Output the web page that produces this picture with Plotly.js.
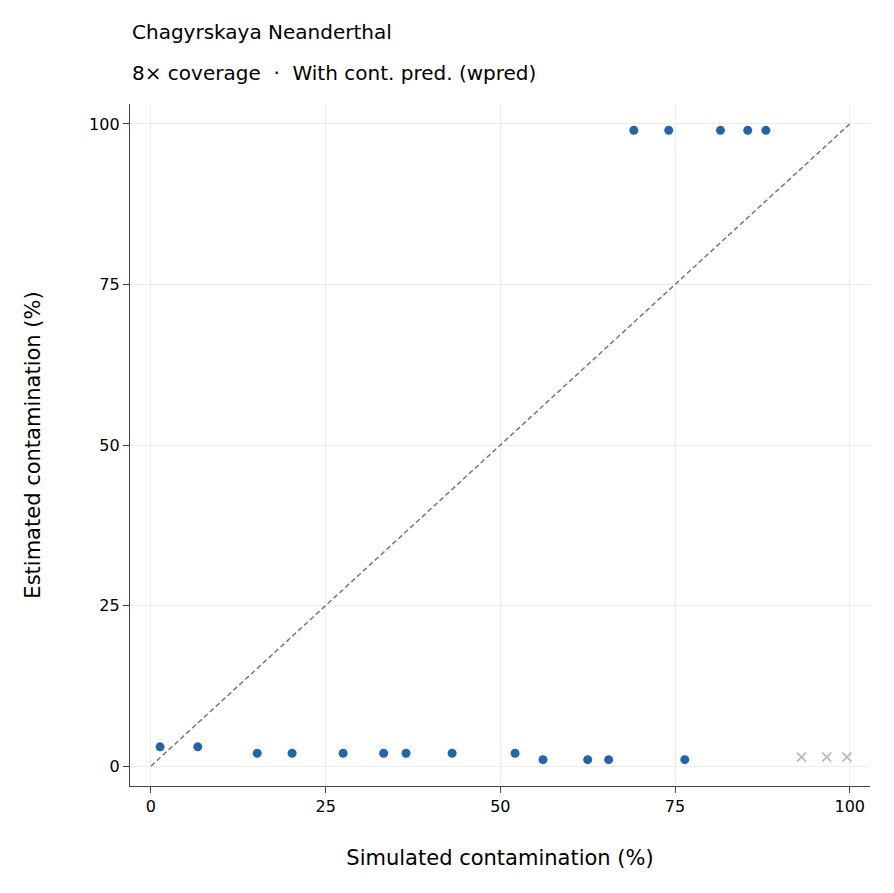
<!DOCTYPE html>
<html>
<head>
<script src="https://cdn.plot.ly/plotly-3.0.1.min.js"></script>
<style>body{margin:0;background:#fff}#chart{width:894px;height:893px}</style>
</head>
<body>
<div id="chart"></div>
<script>
// simulated vs estimated contamination (%)
const simX = [1.3, 6.7, 15.2, 20.2, 27.5, 33.3, 36.5, 43.1, 52.1, 56.1, 62.5, 65.5, 76.4, 69.1, 74.1, 81.5, 85.4, 88.0];
const estY = [3, 3, 2, 2, 2, 2, 2, 2, 2, 1, 1, 1, 1, 99, 99, 99, 99, 99];
const failX = [93.1, 96.7, 99.6];
const failY = [1.4, 1.4, 1.4];
const diag = [0, 100];
const ticks = [0, 25, 50, 75, 100];

const font = { family: "DejaVu Sans", color: "#000" };

let traces = [
  {
    x: diag, y: diag, type: "scatter", mode: "lines",
    line: { color: "#777", width: 1.5, dash: "5px,3px" }, hoverinfo: "skip",
  },
  {
    x: simX, y: estY, type: "scatter", mode: "markers",
    marker: { color: "#2166ac", size: 9 },
  },
  {
    x: failX, y: failY, type: "scatter", mode: "markers",
    marker: { color: "#bbb", size: 9, symbol: "x-thin", line: { color: "#bbb", width: 1.8 } },
  },
];

let axisCommon = {
  tickvals: ticks, showgrid: true, gridcolor: "#ececec", zeroline: false,
  showline: true, linecolor: "#444", linewidth: 1.2,
  ticks: "outside", ticklen: 6, tickcolor: "#444",
  tickfont: { ...font, size: 16 },
};

let layout = {
  width: 894, height: 893,
  margin: { l: 130, r: 24, t: 104, b: 107 },
  paper_bgcolor: "#fff", plot_bgcolor: "#fff",
  showlegend: false,
  font: font,
  xaxis: { ...axisCommon, range: [-3, 102.9], title: { text: "Simulated contamination (%)", font: { ...font, size: 21 }, standoff: 34 } },
  yaxis: { ...axisCommon, range: [-3.1, 103.1], title: { text: "Estimated contamination (%)", font: { ...font, size: 21 }, standoff: 42 } },
  annotations: [
    { text: "Chagyrskaya Neanderthal", xref: "paper", yref: "paper", x: 0, y: 1, yshift: 72, xanchor: "left", yanchor: "middle", showarrow: false, font: { ...font, size: 20 } },
    { text: "8× coverage  ·  With cont. pred. (wpred)", xref: "paper", yref: "paper", x: 0, y: 1, yshift: 31, xanchor: "left", yanchor: "middle", showarrow: false, font: { ...font, size: 20 } },
  ],
};

Plotly.newPlot("chart", traces, layout, { staticPlot: true });
</script>
</body>
</html>
